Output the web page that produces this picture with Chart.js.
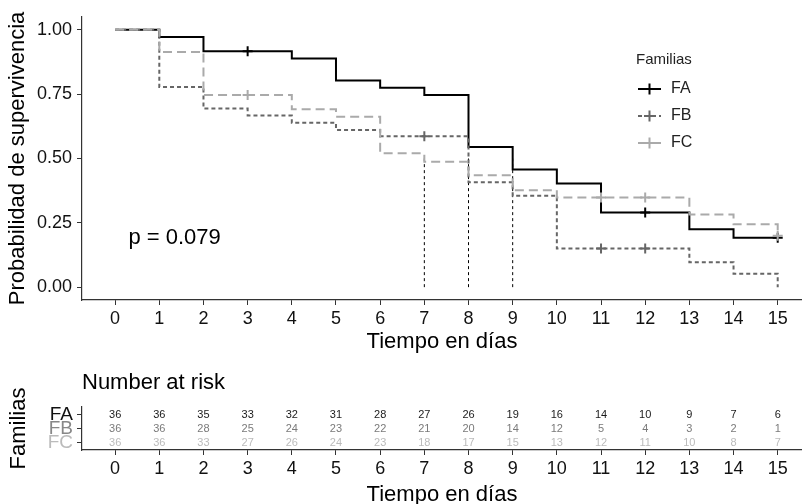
<!DOCTYPE html>
<html lang="es">
<head>
<meta charset="utf-8">
<title>Supervivencia por familias</title>
<script src="https://cdn.jsdelivr.net/npm/chart.js@4.4.0/dist/chart.umd.min.js"></script>
<style>
  html, body { margin: 0; padding: 0; background: #fff; overflow: hidden; }
  #wrap { position: relative; width: 802px; height: 504px; overflow: hidden; }
  #survChart { position: absolute; left: 0; top: 0; }
  #riskChart { position: absolute; left: 0; top: 360px; }
</style>
</head>
<body>
<div id="wrap">
  <canvas id="survChart" width="802" height="358"></canvas>
  <canvas id="riskChart" width="802" height="150"></canvas>
</div>
<script>
// Datos
const dias = [0, 1, 2, 3, 4, 5, 6, 7, 8, 9, 10, 11, 12, 13, 14, 15];
const familias = ['FA', 'FB', 'FC'];
const survFA = [1, 0.972, 0.917, 0.917, 0.889, 0.803, 0.775, 0.747, 0.545, 0.457, 0.403, 0.290, 0.290, 0.225, 0.192, 0.192];
const survFB = [1, 0.778, 0.694, 0.667, 0.639, 0.611, 0.586, 0.586, 0.408, 0.355, 0.150, 0.150, 0.150, 0.097, 0.052, 0];
const survFC = [1, 0.914, 0.747, 0.747, 0.691, 0.662, 0.520, 0.487, 0.435, 0.377, 0.348, 0.348, 0.348, 0.282, 0.244, 0.200];
const censFA = [3, 12, 15];
const censFB = [7, 11, 12];
const censFC = [3, 11, 12, 15];
const medianas = [7, 8, 9];
const riesgoFA = [36, 36, 35, 33, 32, 31, 28, 27, 26, 19, 16, 14, 10, 9, 7, 6];
const riesgoFB = [36, 36, 28, 25, 24, 23, 22, 21, 20, 14, 12, 5, 4, 3, 2, 1];
const riesgoFC = [36, 36, 33, 27, 26, 24, 23, 18, 17, 15, 13, 12, 11, 10, 8, 7];
const yTicks = [0, 0.25, 0.5, 0.75, 1];
const pValor = 'p = 0.079';

const fuente = '"Liberation Sans", Arial, sans-serif';
const colores = ['#000000', '#666666', '#aaaaaa'];
const guiones = [[], [4, 3], [9, 5]];
const coloresTabla = ['#1a1a1a', '#7a7a7a', '#bbbbbb'];

Chart.defaults.font.family = fuente;
Chart.defaults.color = '#111';

// Curva escalonada de Kaplan-Meier
function curva(i, surv) {
    return {
        type: 'line',
        label: familias[i],
        data: dias.map((d, k) => ({ x: d, y: surv[k] })),
        stepped: 'before',
        borderColor: colores[i],
        borderWidth: 2,
        borderDash: guiones[i],
        pointRadius: 0,
        fill: false,
        order: 2 * (2 - i) + 1
    };
}

// Marcas de censura (+)
function censuras(i, cens, surv) {
    return {
        type: 'scatter',
        label: familias[i] + ' censura',
        data: cens.map(t => ({ x: t, y: surv[dias.indexOf(t)] })),
        pointStyle: 'cross',
        pointRadius: 5,
        borderColor: colores[i],
        borderWidth: 2,
        showLine: false,
        order: 2 * (2 - i)
    };
}

const lineasMediana = medianas.map(m => ({
    type: 'line',
    label: 'mediana ' + m,
    data: [{ x: m, y: 0 }, { x: m, y: 0.5 }],
    borderColor: '#000',
    borderWidth: 1,
    borderDash: [3, 3],
    pointRadius: 0,
    order: 10
}));

// Leyenda y valor p
const anotaciones = {
    id: 'anotaciones',
    afterDraw(chart) {
        const ctx = chart.ctx;
        const x = chart.scales.x, y = chart.scales.y;
        ctx.save();
        ctx.fillStyle = '#000';
        ctx.textBaseline = 'middle';
        ctx.font = '22px ' + fuente;
        ctx.fillText(pValor, x.getPixelForValue(0.3), y.getPixelForValue(0.19));

        ctx.fillStyle = '#222';
        ctx.font = '15px ' + fuente;
        ctx.fillText('Familias', 636, 60);
        familias.forEach((f, i) => {
            const ly = 89 + i * 27;
            ctx.strokeStyle = colores[i];
            ctx.lineWidth = 2;
            ctx.setLineDash(guiones[i]);
            ctx.beginPath();
            ctx.moveTo(638, ly);
            ctx.lineTo(661, ly);
            ctx.stroke();
            ctx.setLineDash([]);
            ctx.beginPath();
            ctx.moveTo(644, ly);
            ctx.lineTo(655, ly);
            ctx.moveTo(649.5, ly - 5.5);
            ctx.lineTo(649.5, ly + 5.5);
            ctx.stroke();
            ctx.fillStyle = '#222';
            ctx.font = '16px ' + fuente;
            ctx.fillText(f, 671, ly);
        });
        ctx.restore();
    }
};

const ejeComun = {
    grid: { display: true, drawOnChartArea: false, drawTicks: true, tickLength: 5, color: '#333', lineWidth: 1 },
    border: { display: true, color: '#333', width: 1.2 }
};

// el eje x llega hasta el borde derecho sin margen extra
function ajustarX(alto) {
    return scale => {
        scale.height = alto;
        scale.paddingLeft = 0;
        scale.paddingRight = 0;
    };
}

new Chart(document.getElementById('survChart'), {
    type: 'line',
    data: {
        datasets: [
            curva(0, survFA), curva(1, survFB), curva(2, survFC),
            censuras(0, censFA, survFA), censuras(1, censFB, survFB), censuras(2, censFC, survFC),
            ...lineasMediana
        ]
    },
    options: {
        responsive: false,
        animation: false,
        layout: { autoPadding: false, padding: { top: 17, left: 0, right: 0, bottom: 0 } },
        plugins: { legend: { display: false }, tooltip: { enabled: false } },
        scales: {
            x: {
                type: 'linear',
                min: -0.75,
                max: 15.55,
                afterBuildTicks: scale => { scale.ticks = dias.map(v => ({ value: v })); },
                afterFit: ajustarX(58),
                ticks: { font: { size: 18 }, color: '#111', padding: 3, maxRotation: 0, autoSkip: false },
                title: { display: true, text: 'Tiempo en días', font: { size: 22 }, color: '#000', padding: { top: 0, bottom: 3 } },
                ...ejeComun
            },
            y: {
                type: 'linear',
                min: -0.05,
                max: 1.05,
                afterBuildTicks: scale => { scale.ticks = yTicks.map(v => ({ value: v })); },
                afterFit: scale => { scale.width = 82; },
                ticks: { font: { size: 18 }, color: '#111', padding: 5, autoSkip: false, callback: v => v.toFixed(2) },
                title: { display: true, text: 'Probabilidad de supervivencia', font: { size: 22 }, color: '#000', padding: { top: 5, bottom: 0 } },
                ...ejeComun
            }
        }
    },
    plugins: [anotaciones]
});

// Tabla de numero en riesgo
const riesgos = [riesgoFA, riesgoFB, riesgoFC];
const filas = [3, 2, 1];

const numerosRiesgo = {
    id: 'numerosRiesgo',
    afterDatasetsDraw(chart) {
        const ctx = chart.ctx;
        ctx.save();
        ctx.font = '11px ' + fuente;
        ctx.textAlign = 'center';
        ctx.textBaseline = 'middle';
        chart.data.datasets.forEach((ds, i) => {
            ctx.fillStyle = coloresTabla[i];
            chart.getDatasetMeta(i).data.forEach((pt, k) => {
                ctx.fillText(String(riesgos[i][k]), pt.x, pt.y);
            });
        });
        ctx.fillStyle = '#000';
        ctx.textAlign = 'left';
        ctx.font = '22px ' + fuente;
        ctx.fillText('Number at risk', chart.chartArea.left, 23);
        ctx.restore();
    }
};

new Chart(document.getElementById('riskChart'), {
    type: 'scatter',
    data: {
        datasets: familias.map((f, i) => ({
            label: f,
            data: dias.map(d => ({ x: d, y: filas[i] })),
            pointRadius: 0
        }))
    },
    options: {
        responsive: false,
        animation: false,
        layout: { autoPadding: false, padding: { top: 47, left: 0, right: 0, bottom: 0 } },
        plugins: { legend: { display: false }, tooltip: { enabled: false } },
        scales: {
            x: {
                type: 'linear',
                min: -0.75,
                max: 15.55,
                afterBuildTicks: scale => { scale.ticks = dias.map(v => ({ value: v })); },
                afterFit: ajustarX(60),
                ticks: { font: { size: 18 }, color: '#111', padding: 3, maxRotation: 0, autoSkip: false },
                title: { display: true, text: 'Tiempo en días', font: { size: 22 }, color: '#000', padding: { top: 0, bottom: 2 } },
                ...ejeComun
            },
            y: {
                type: 'linear',
                min: 0.5,
                max: 3.55,
                afterBuildTicks: scale => { scale.ticks = filas.map(v => ({ value: v })); },
                afterFit: scale => { scale.width = 82; },
                ticks: {
                    font: { size: 19 },
                    padding: 4,
                    autoSkip: false,
                    callback: v => familias[3 - v],
                    color: c => ['#111', '#888', '#bbb'][3 - c.tick.value]
                },
                title: { display: true, text: 'Familias', font: { size: 22 }, color: '#000', padding: { top: 6, bottom: 0 } },
                ...ejeComun
            }
        }
    },
    plugins: [numerosRiesgo]
});
</script>
</body>
</html>
